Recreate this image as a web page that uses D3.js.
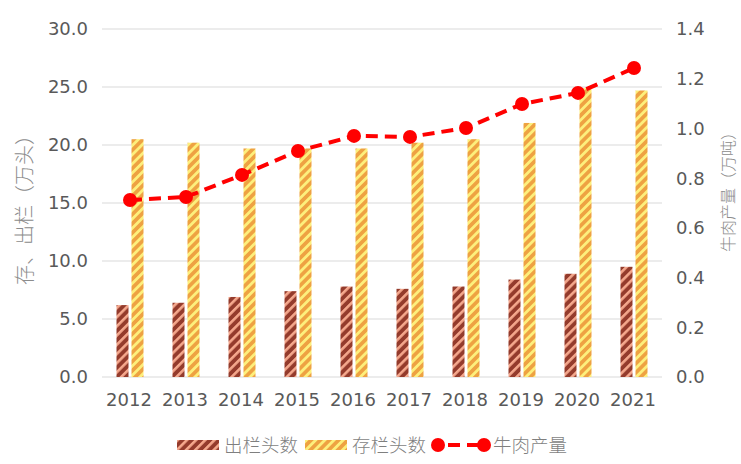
<!DOCTYPE html>
<html>
<head>
<meta charset="utf-8">
<script src="https://cdn.jsdelivr.net/npm/d3@7"></script>
<style>
  body { margin: 0; background: #fff; }
  svg { display: block; }
</style>
</head>
<body>
<svg id="chart" width="741" height="464"></svg>
<script>
// data
const years = ["2012", "2013", "2014", "2015", "2016", "2017", "2018", "2019", "2020", "2021"];
const chulan = [6.2, 6.4, 6.9, 7.4, 7.8, 7.6, 7.8, 8.4, 8.9, 9.5];
const cunlan = [20.5, 20.2, 19.7, 19.7, 19.7, 20.2, 20.5, 21.9, 24.9, 24.7];
const beef = [0.712, 0.724, 0.813, 0.909, 0.970, 0.966, 1.002, 1.098, 1.143, 1.243];
const leftTicks = [0, 5, 10, 15, 20, 25, 30];
const rightTicks = [0, 0.2, 0.4, 0.6, 0.8, 1.0, 1.2, 1.4];

const svg = d3.select("#chart");
const margin = {left: 102, right: 79, top: 29, bottom: 87};
const width = 741, height = 464;
const x0 = margin.left, x1 = width - margin.right;
const y0 = height - margin.bottom, y1 = margin.top;

const x = d3.scaleBand().domain(years).range([x0, x1]);
const yL = d3.scaleLinear().domain([0, 30]).range([y0, y1]);
const yR = d3.scaleLinear().domain([0, 1.4]).range([y0, y1]);

const tickFont = "'DejaVu Sans', sans-serif";
const cjkFont = "'Noto Sans CJK SC', sans-serif";

// patterns
const defs = svg.append("defs");
function stripes(id, base, stripe, sw) {
    const p = defs.append("pattern")
        .attr("id", id)
        .attr("patternUnits", "userSpaceOnUse")
        .attr("width", 6.5).attr("height", 6.5)
        .attr("patternTransform", "rotate(45)");
    p.append("rect").attr("width", 6.5).attr("height", 6.5).attr("fill", base);
    p.append("rect").attr("width", sw).attr("height", 6.5).attr("fill", stripe);
}
stripes("pDark", "#943b2c", "#f5a88d", 2.6);
stripes("pOrange", "#eea242", "#fdef7c", 2.8);

// gridlines
svg.append("g").selectAll("line")
    .data(leftTicks)
    .join("line")
    .attr("x1", x0).attr("x2", x1)
    .attr("y1", d => yL(d)).attr("y2", d => yL(d))
    .attr("stroke", "#d9d9d9").attr("stroke-width", 1);

// left axis labels
svg.append("g").selectAll("text")
    .data(leftTicks)
    .join("text")
    .attr("x", 88).attr("y", d => yL(d))
    .attr("dy", "0.36em")
    .attr("text-anchor", "end")
    .attr("fill", "#595959")
    .style("font-family", tickFont).style("font-size", "18px")
    .text(d => d.toFixed(1));

// right axis labels
svg.append("g").selectAll("text")
    .data(rightTicks)
    .join("text")
    .attr("x", 676).attr("y", d => yR(d))
    .attr("dy", "0.36em")
    .attr("text-anchor", "start")
    .attr("fill", "#595959")
    .style("font-family", tickFont).style("font-size", "18px")
    .text(d => d.toFixed(1));

// x labels
svg.append("g").selectAll("text")
    .data(years)
    .join("text")
    .attr("x", d => x(d) + x.bandwidth() / 2 - 1)
    .attr("y", y0 + 23)
    .attr("dy", "0.36em")
    .attr("text-anchor", "middle")
    .attr("fill", "#595959")
    .style("font-family", tickFont).style("font-size", "18px")
    .text(d => d);

// axis titles
svg.append("text")
    .attr("transform", "translate(25,205) rotate(-90)")
    .attr("text-anchor", "middle")
    .attr("dy", "0.36em")
    .attr("fill", "#8c8c8c")
    .style("font-family", cjkFont).style("font-size", "20px")
    .style("font-weight", 300)
    .text("存、出栏（万头）");

svg.append("text")
    .attr("transform", "translate(728,188) rotate(-90)")
    .attr("text-anchor", "middle")
    .attr("dy", "0.36em")
    .attr("fill", "#8c8c8c")
    .style("font-family", cjkFont).style("font-size", "16px")
    .style("font-weight", 300)
    .text("牛肉产量（万吨）");

// bars
const bw = 12, gap = 3;
const cx = d => x(d) + x.bandwidth() / 2;

svg.append("g").selectAll("rect")
    .data(years)
    .join("rect")
    .attr("x", (d) => cx(d) - gap / 2 - bw)
    .attr("y", (d, i) => yL(chulan[i]))
    .attr("width", bw)
    .attr("height", (d, i) => y0 - yL(chulan[i]))
    .attr("fill", "url(#pDark)");

svg.append("g").selectAll("rect")
    .data(years)
    .join("rect")
    .attr("x", (d) => cx(d) + gap / 2)
    .attr("y", (d, i) => yL(cunlan[i]))
    .attr("width", bw)
    .attr("height", (d, i) => y0 - yL(cunlan[i]))
    .attr("fill", "url(#pOrange)");

// line
const line = d3.line()
    .x((d, i) => cx(years[i]))
    .y(d => yR(d));

svg.append("path")
    .datum(beef)
    .attr("d", line)
    .attr("fill", "none")
    .attr("stroke", "#ff0000")
    .attr("stroke-width", 4)
    .attr("stroke-dasharray", "12,7");

svg.append("g").selectAll("circle")
    .data(beef)
    .join("circle")
    .attr("cx", (d, i) => cx(years[i]))
    .attr("cy", d => yR(d))
    .attr("r", 7)
    .attr("fill", "#ff0000");

// legend
const lg = svg.append("g");
const ly = 445;
const lgFont = "18.5px";
lg.append("rect").attr("x", 177).attr("y", ly - 5).attr("width", 42).attr("height", 10).attr("fill", "url(#pDark)");
lg.append("text").attr("x", 224).attr("y", ly).attr("dy", "0.36em")
    .attr("fill", "#7f7f7f").style("font-family", cjkFont).style("font-size", lgFont).style("font-weight", 300)
    .text("出栏头数");
lg.append("rect").attr("x", 305).attr("y", ly - 5).attr("width", 42).attr("height", 10).attr("fill", "url(#pOrange)");
lg.append("text").attr("x", 352).attr("y", ly).attr("dy", "0.36em")
    .attr("fill", "#7f7f7f").style("font-family", cjkFont).style("font-size", lgFont).style("font-weight", 300)
    .text("存栏头数");
lg.append("line").attr("x1", 438).attr("x2", 484).attr("y1", ly).attr("y2", ly)
    .attr("stroke", "#ff0000").attr("stroke-width", 4).attr("stroke-dasharray", "12,7")
    .attr("stroke-dashoffset", -10);
lg.append("circle").attr("cx", 438).attr("cy", ly).attr("r", 7).attr("fill", "#ff0000");
lg.append("circle").attr("cx", 484).attr("cy", ly).attr("r", 7).attr("fill", "#ff0000");
lg.append("text").attr("x", 493).attr("y", ly).attr("dy", "0.36em")
    .attr("fill", "#7f7f7f").style("font-family", cjkFont).style("font-size", lgFont).style("font-weight", 300)
    .text("牛肉产量");
</script>
</body>
</html>
